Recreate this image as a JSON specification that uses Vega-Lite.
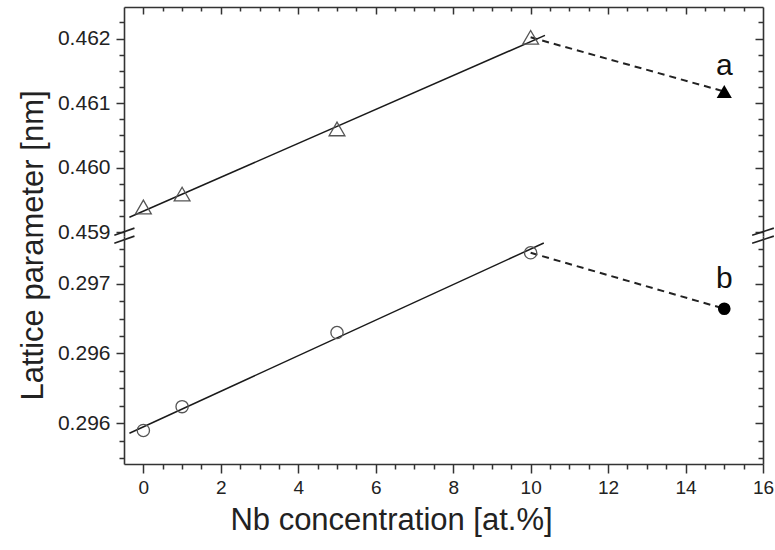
{
  "$schema": "https://vega.github.io/schema/vega-lite/v6.json",
  "padding": {"left": 17, "top": 6, "right": 10, "bottom": 4},
  "spacing": 0,
  "bounds": "flush",
  "config": {
    "view": {"stroke": null},
    "font": "Liberation Sans",
    "axis": {
      "domainColor": "#333", "domainWidth": 1.6, "tickColor": "#333", "tickWidth": 1.5,
      "labelColor": "#222", "titleColor": "#222", "labelFont": "Liberation Sans", "titleFont": "Liberation Sans",
      "titleFontWeight": "normal", "grid": false
    }
  },
  "datasets": {
    "fit_a": [{"x": -0.36, "y": 0.45923}, {"x": 10.37, "y": 0.46205}],
    "dash_a": [{"x": 10, "y": 0.46202}, {"x": 15, "y": 0.46118}],
    "pts_a": [{"x": 0, "y": 0.45939}, {"x": 1, "y": 0.45959}, {"x": 5, "y": 0.4606}, {"x": 10, "y": 0.46202}],
    "fill_a": [{"x": 15, "y": 0.46118, "label": "a"}],
    "fit_b": [{"x": -0.36, "y": 0.29593}, {"x": 10.34, "y": 0.29729}],
    "dash_b": [{"x": 10, "y": 0.29722}, {"x": 15, "y": 0.29682}],
    "pts_b": [{"x": 0, "y": 0.29595}, {"x": 1, "y": 0.29612}, {"x": 5, "y": 0.29665}, {"x": 10, "y": 0.29722}],
    "fill_b": [{"x": 15, "y": 0.29682, "label": "b"}],
    "brk": [
      {"x": -0.75, "x2": -0.23, "y": 0.458953, "y2": 0.459062},
      {"x": -0.75, "x2": -0.23, "y": 0.458829, "y2": 0.458938},
      {"x": 15.72, "x2": 16.28, "y": 0.458953, "y2": 0.459062},
      {"x": 15.72, "x2": 16.28, "y": 0.458829, "y2": 0.458938}
    ]
  },
  "vconcat": [
    {
      "width": 639, "height": 229,
      "layer": [
        {
          "data": {"name": "fit_a"},
          "mark": {"type": "line", "color": "#1a1a1a", "strokeWidth": 1.5},
          "encoding": {
            "x": {"field": "x", "type": "quantitative", "scale": {"domain": [-0.5, 16], "nice": false, "zero": false},
              "axis": {"orient": "top", "title": null, "labels": false,
                "values": [0,0.5,1,1.5,2,2.5,3,3.5,4,4.5,5,5.5,6,6.5,7,7.5,8,8.5,9,9.5,10,10.5,11,11.5,12,12.5,13,13.5,14,14.5,15,15.5],
                "tickSize": {"condition": {"test": "datum.value % 2 == 0", "value": -7}, "value": -4}}},
            "y": {"field": "y", "type": "quantitative", "scale": {"domain": [0.45894, 0.46249], "nice": false, "zero": false},
              "axis": {"orient": "left", "title": null, "labelFontSize": 21, "labelPadding": 6,
                "values": [0.459,0.45925,0.4595,0.45975,0.46,0.46025,0.4605,0.46075,0.461,0.46125,0.4615,0.46175,0.462,0.46225],
                "labelExpr": "abs(datum.value*1000 - round(datum.value*1000)) < 0.01 ? format(datum.value, '.3f') : ''",
                "tickSize": {"condition": {"test": "abs(datum.value*1000 - round(datum.value*1000)) < 0.01", "value": 8}, "value": 5}}}
          }
        },
        {
          "data": {"name": "dash_a"},
          "mark": {"type": "line", "color": "#222", "strokeWidth": 2, "strokeDash": [7, 5]},
          "encoding": {
            "x": {"field": "x", "type": "quantitative", "axis": null},
            "y": {"field": "y", "type": "quantitative",
              "axis": {"orient": "right", "title": null, "labels": false,
                "values": [0.459,0.45925,0.4595,0.45975,0.46,0.46025,0.4605,0.46075,0.461,0.46125,0.4615,0.46175,0.462,0.46225],
                "tickSize": {"condition": {"test": "abs(datum.value*1000 - round(datum.value*1000)) < 0.01", "value": -8}, "value": -5}}}
          }
        },
        {
          "data": {"name": "pts_a"},
          "mark": {"type": "point", "shape": "triangle-up", "filled": false, "stroke": "#555", "strokeWidth": 1.3, "size": 250, "opacity": 1},
          "encoding": {
            "x": {"field": "x", "type": "quantitative", "axis": null},
            "y": {"field": "y", "type": "quantitative", "axis": null}
          }
        },
        {
          "data": {"name": "fill_a"},
          "mark": {"type": "point", "shape": "triangle-up", "filled": true, "color": "#000", "size": 230, "opacity": 1},
          "encoding": {
            "x": {"field": "x", "type": "quantitative", "axis": null},
            "y": {"field": "y", "type": "quantitative", "axis": null}
          }
        },
        {
          "data": {"name": "fill_a"},
          "mark": {"type": "text", "fontSize": 30, "color": "#111", "align": "center", "baseline": "alphabetic", "dy": -17},
          "encoding": {
            "x": {"field": "x", "type": "quantitative", "axis": null},
            "y": {"field": "y", "type": "quantitative", "axis": null},
            "text": {"field": "label"}
          }
        },
        {
          "data": {"name": "brk"},
          "mark": {"type": "rule", "color": "#222", "strokeWidth": 1.6},
          "encoding": {
            "x": {"field": "x", "type": "quantitative", "axis": null},
            "x2": {"field": "x2"},
            "y": {"field": "y", "type": "quantitative", "axis": null},
            "y2": {"field": "y2"}
          }
        }
      ],
      "resolve": {"axis": {"x": "independent", "y": "independent"}}
    },
    {
      "width": 639, "height": 228,
      "layer": [
        {
          "data": {"name": "fit_b"},
          "mark": {"type": "line", "color": "#1a1a1a", "strokeWidth": 1.5},
          "encoding": {
            "x": {"field": "x", "type": "quantitative", "scale": {"domain": [-0.5, 16], "nice": false, "zero": false},
              "axis": {"orient": "bottom", "title": "Nb concentration [at.%]", "titleFontSize": 31, "titlePadding": 8,
                "titleX": 267, "titleAlign": "center",
                "labelFontSize": 19, "labelPadding": 5, "labelFlush": false,
                "values": [0,0.5,1,1.5,2,2.5,3,3.5,4,4.5,5,5.5,6,6.5,7,7.5,8,8.5,9,9.5,10,10.5,11,11.5,12,12.5,13,13.5,14,14.5,15,15.5,16],
                "labelExpr": "datum.value % 2 == 0 ? format(datum.value, 'd') : ''",
                "tickSize": {"condition": {"test": "datum.value % 2 == 0", "value": 9}, "value": 5}}},
            "y": {"field": "y", "type": "quantitative", "scale": {"domain": [0.29571, 0.29734], "nice": false, "zero": false},
              "axis": {"orient": "left", "title": "Lattice parameter [nm]", "titleFontSize": 31, "titlePadding": 8,
                "titleY": 9, "titleAlign": "center",
                "labelFontSize": 21, "labelPadding": 6,
                "values": [0.29575,0.295875,0.296,0.296125,0.29625,0.296375,0.2965,0.296625,0.29675,0.296875,0.297,0.297125,0.29725],
                "labelExpr": "abs(datum.value*2000 - round(datum.value*2000)) < 0.01 ? (datum.value > 0.2968 ? '0.297' : '0.296') : ''",
                "tickSize": {"condition": {"test": "abs(datum.value*2000 - round(datum.value*2000)) < 0.01", "value": 8}, "value": 5}}}
          }
        },
        {
          "data": {"name": "dash_b"},
          "mark": {"type": "line", "color": "#222", "strokeWidth": 2, "strokeDash": [7, 5]},
          "encoding": {
            "x": {"field": "x", "type": "quantitative", "axis": null},
            "y": {"field": "y", "type": "quantitative",
              "axis": {"orient": "right", "title": null, "labels": false,
                "values": [0.29575,0.295875,0.296,0.296125,0.29625,0.296375,0.2965,0.296625,0.29675,0.296875,0.297,0.297125,0.29725],
                "tickSize": {"condition": {"test": "abs(datum.value*2000 - round(datum.value*2000)) < 0.01", "value": -8}, "value": -5}}}
          }
        },
        {
          "data": {"name": "pts_b"},
          "mark": {"type": "point", "shape": "circle", "filled": false, "stroke": "#555", "strokeWidth": 1.3, "size": 150, "opacity": 1},
          "encoding": {
            "x": {"field": "x", "type": "quantitative", "axis": null},
            "y": {"field": "y", "type": "quantitative", "axis": null}
          }
        },
        {
          "data": {"name": "fill_b"},
          "mark": {"type": "point", "shape": "circle", "filled": true, "color": "#000", "size": 160, "opacity": 1},
          "encoding": {
            "x": {"field": "x", "type": "quantitative", "axis": null},
            "y": {"field": "y", "type": "quantitative", "axis": null}
          }
        },
        {
          "data": {"name": "fill_b"},
          "mark": {"type": "text", "fontSize": 30, "color": "#111", "align": "center", "baseline": "alphabetic", "dy": -21},
          "encoding": {
            "x": {"field": "x", "type": "quantitative", "axis": null},
            "y": {"field": "y", "type": "quantitative", "axis": null},
            "text": {"field": "label"}
          }
        }
      ],
      "resolve": {"axis": {"x": "independent", "y": "independent"}}
    }
  ]
}
